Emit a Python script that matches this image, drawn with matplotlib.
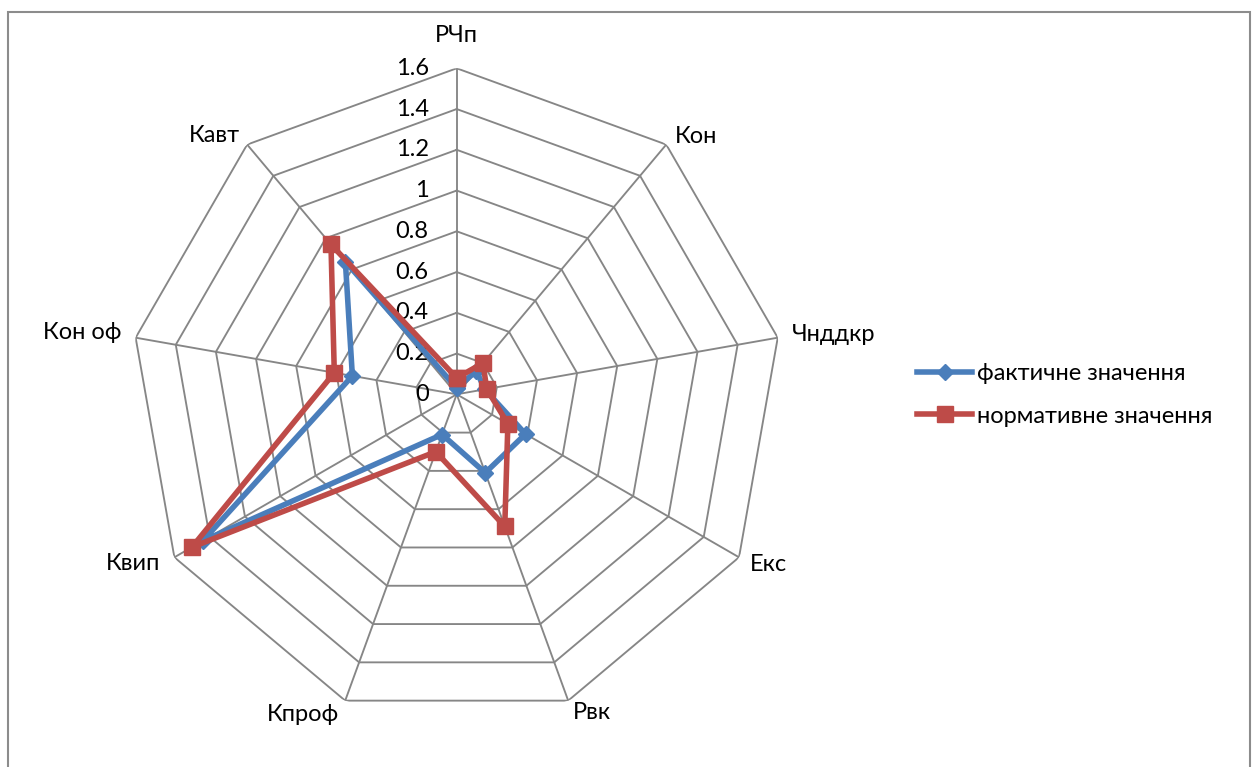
import numpy as np
import matplotlib
matplotlib.use("Agg")
import matplotlib.pyplot as plt
from matplotlib.patches import Rectangle
from matplotlib.lines import Line2D

plt.rcParams['font.family'] = ['Lato', 'DejaVu Sans']

categories = ['РЧп', 'Кон', 'Чнддкр', 'Екс', 'Рвк', 'Кпроф', 'Квип', 'Кон оф', 'Кавт']
actual = [0.03, 0.15, 0.14, 0.39, 0.41, 0.21, 1.44, 0.52, 0.85]
normative = [0.08, 0.20, 0.15, 0.29, 0.69, 0.30, 1.50, 0.61, 0.96]
r_ticks = [0, 0.2, 0.4, 0.6, 0.8, 1, 1.2, 1.4, 1.6]
r_tick_labels = ['0', '0.2', '0.4', '0.6', '0.8', '1', '1.2', '1.4', '1.6']
series_names = ['фактичне значення', 'нормативне значення']

BLUE = '#4A7EBB'
RED = '#BE4B48'
GRID = '#868686'
FS = 17

W, H = 1259, 767
fig = plt.figure(figsize=(W / 100, H / 100), dpi=100)

# chart-area border
fig.patches.append(Rectangle((8 / W, -0.02), (1250 - 8) / W, 1 - 12 / H + 0.02,
                             transform=fig.transFigure, fill=False,
                             edgecolor='#8C8C8C', linewidth=1.5))

cx, cy, R = 456.7, 394.3, 326.0
ax = fig.add_axes([(cx - R) / W, (H - cy - R) / H, 2 * R / W, 2 * R / H],
                  projection='polar')
ax.set_theta_zero_location('N')
ax.set_theta_direction(-1)
ax.set_ylim(0, r_ticks[-1])
ax.grid(False)
ax.set_xticks([])
ax.set_yticks([])
ax.spines['polar'].set_visible(False)
ax.patch.set_visible(False)

n = len(categories)
theta = np.arange(n) * 2 * np.pi / n
theta_closed = np.append(theta, theta[0])

# polygonal grid rings and spokes
for rv in r_ticks[1:]:
    ax.plot(theta_closed, [rv] * (n + 1), color=GRID, lw=1.35, zorder=1)
for t in theta:
    ax.plot([t, t], [0, r_ticks[-1]], color=GRID, lw=1.35, zorder=1)

# radial value labels beside the vertical spoke
for rv, lab in zip(r_ticks, r_tick_labels):
    ax.annotate(lab, xy=(0, rv), xytext=(-28, 0), textcoords='offset pixels',
                ha='right', va='center', fontsize=FS, color='black')

# category labels around the outer ring
offsets = [(0, 33, 'center'), (9, 8, 'left'), (14, 3, 'left'), (11, -7, 'left'),
           (5, -12, 'left'), (-6, -14, 'right'), (-14, -6, 'right'),
           (-14, 5, 'right'), (-7, 9, 'right')]
for t, lab, (dx, dy, ha) in zip(theta, categories, offsets):
    ax.annotate(lab, xy=(t, r_ticks[-1]), xytext=(dx, dy), textcoords='offset pixels',
                ha=ha, va='center', fontsize=FS, color='black', annotation_clip=False)

# data series
ax.plot(theta_closed, actual + actual[:1], color=BLUE, lw=4, marker='D',
        markersize=8.5, markerfacecolor=BLUE, markeredgecolor=BLUE, zorder=3,
        clip_on=False)
ax.plot(theta_closed, normative + normative[:1], color=RED, lw=4, marker='s',
        markersize=12, markerfacecolor=RED, markeredgecolor=RED, zorder=4,
        clip_on=False)

handles = [Line2D([], [], color=BLUE, lw=4, marker='D', markersize=8.5),
           Line2D([], [], color=RED, lw=4, marker='s', markersize=12)]
fig.legend(handles, series_names, loc='center left',
           bbox_to_anchor=(905 / W, 1 - 395 / H), frameon=False, fontsize=FS,
           handlelength=2.35, handletextpad=0.2, labelspacing=0.9,
           borderpad=0)

fig.savefig('out.png', dpi=100)
